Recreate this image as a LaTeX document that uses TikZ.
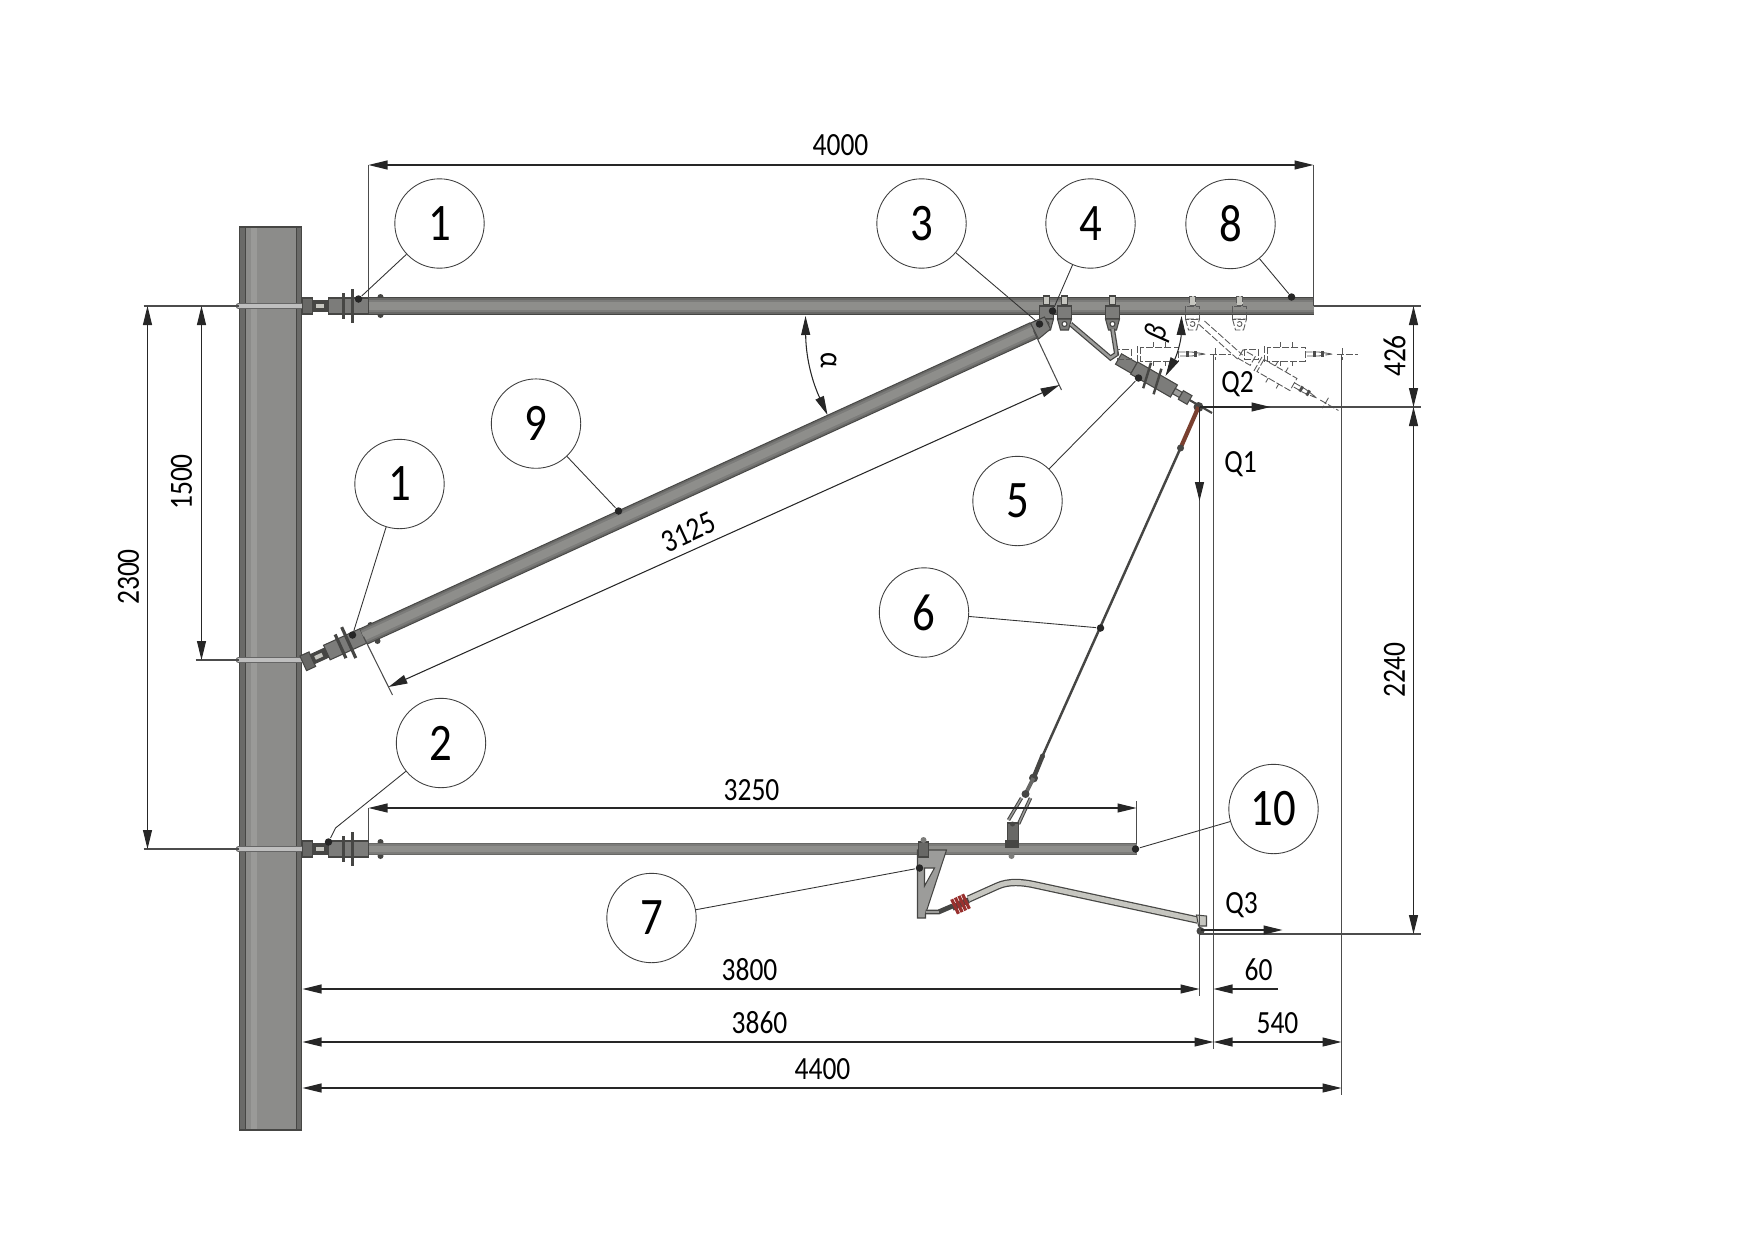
\documentclass[tikz,border=0pt]{standalone}
\usepackage{fontspec}
\usepackage{tikz}
\usetikzlibrary{arrows.meta}
\newfontfamily\dimfont[FakeStretch=0.85]{Carlito}
\definecolor{polegray}{HTML}{8C8C8A}
\definecolor{poleedge}{HTML}{6A6A68}
\definecolor{steel}{HTML}{7C7C7A}
\definecolor{steeldark}{HTML}{464644}
\definecolor{steelmid}{HTML}{686866}
\definecolor{steellight}{HTML}{9C9C9A}
\definecolor{armlight}{HTML}{C6C6C0}
\definecolor{insred}{HTML}{98302E}
\definecolor{rodred}{HTML}{7A4030}
\tikzset{
	x=0.1mm, y=-0.1mm,
	>={Triangle[length=1.9mm,width=0.9mm]},
	callout/.style={circle, draw=black!75, line width=0.25pt, fill=white, minimum size=8.94mm, inner sep=0pt, font=\dimfont\fontsize{15}{15}\selectfont},
	pin/.style={circle, fill=black!85, minimum size=0.75mm, inner sep=0pt},
	dimtext/.style={font=\dimfont\fontsize{9.2}{9.2}\selectfont, inner sep=0pt},
	dimline/.style={draw=black!85, line width=0.3pt, <->},
	oneway/.style={draw=black!85, line width=0.3pt, ->},
	extline/.style={draw=black!70, line width=0.3pt},
	leader/.style={draw=black!80, line width=0.25pt},
	ghost/.style={draw=black!65, line width=0.25pt, dash pattern=on 2pt off 0.6pt},
	solidpart/.style={draw=steeldark, fill=steel, line width=0.3pt},
	pics/hanger/.style={code={
		\path[#1, fill=armlight] (-3,-10) rectangle (3,-1);
		\path[#1] (-7,0) rectangle (7,13);
		\path[#1] (-7,13) -- (-4,24) -- (4,24) -- (7,13) -- cycle;
		\path[#1, fill=white] (0,18) circle (2.5);
	}},
	pics/fitting/.style={code={
		\path[solidpart, fill=steelmid] (-8,-8) rectangle (2,8);
		\path[solidpart, fill=steeldark] (2,-5) rectangle (18,5);
		\path[fill=armlight] (5,-2) rectangle (13,2);
		\path[solidpart] (18,-8) rectangle (58,8);
		\draw[steeldark, line width=0.9pt] (33,-13) -- (33,13);
		\draw[steeldark, line width=0.9pt] (42,-17) -- (42,17);
	}},
	pics/ghostins/.style={code={
		\draw[ghost] (-8,-5) rectangle (6,5);
		\draw[ghost] (12,-8) -- (12,8);
		\draw[ghost] (15,-7) rectangle (53,7);
		\draw[ghost] (28,-12) -- (28,-7) (28,7) -- (28,12);
		\draw[ghost] (40,-12) -- (40,-7) (40,7) -- (40,12);
		\draw[ghost] (53,-2) -- (66,-2) -- (80,0) -- (66,2) -- (53,2);
		\draw[black!70, line width=0.8pt] (62,-3) -- (62,3) (70,-3) -- (70,3);
		\draw[ghost] (90,-6) -- (90,6) (84,0) -- (105,0);
	}}
}
\newcommand{\tubeline}[3]{%
	\draw[steeldark, line width=#3*0.2835pt] (#1) -- (#2);
	\draw[steelmid, line width=#3*0.25pt] (#1) -- (#2);
	\draw[steel, line width=#3*0.2pt] (#1) -- (#2);
	\draw[steel!45!steellight, line width=#3*0.13pt] (#1) -- (#2);
}
\begin{document}
\begin{tikzpicture}
	\useasboundingbox (-0.5,-1) rectangle (1753.5,1239);

	% Post
	\path[fill=polegray] (239,226) rectangle (301,1129);
	\path[fill=poleedge] (239,226) rectangle (245,1129);
	\path[fill=poleedge] (296,226) rectangle (301,1129);
	\path[fill=polegray!88!white] (250,226) rectangle (256,1129);
	\draw[steeldark, line width=0.3pt] (245,226) -- (245,1129) (296,226) -- (296,1129);
	\draw[steeldark, line width=0.4pt] (239,226) rectangle (301,1129);
	\foreach \y in {305,659,848}{
		\draw[black!60, line width=1.6pt, line cap=round] (238,\y) -- (301,\y);
		\draw[black!25, line width=0.9pt, line cap=round] (238,\y) -- (301,\y);
	}

	% Tubes
	\coordinate (toptubeA) at (368,305);
	\coordinate (toptubeB) at (1313,305);
	\coordinate (strutA) at (363,635.5);
	\coordinate (strutB) at (1033,329.5);
	\coordinate (lowtubeA) at (368,848);
	\coordinate (lowtubeB) at (1136,848);
	\pic at (310,305) {fitting};
	\pic[rotate=24.5] at (310,659) {fitting};
	\pic at (310,848) {fitting};
	\foreach \x/\y in {380/296,380/314,380/841,380/855,370/624,377/640}
		\fill[steeldark] (\x,\y) circle (3);
	\tubeline{toptubeA}{toptubeB}{18}
	\tubeline{strutA}{strutB}{18}
	\tubeline{lowtubeA}{lowtubeB}{13}

	% Hangers
	\pic at (1046,305) {hanger=solidpart};
	\pic at (1064,305) {hanger=solidpart};
	\pic at (1112,305) {hanger=solidpart};
	\pic at (1192,305) {hanger=ghost};
	\pic at (1239,305) {hanger=ghost};
	\path[solidpart] (1030,322) -- (1044,316) -- (1050,328) -- (1038,338) -- cycle;

	% Swivel clamp and insulator
	\coordinate (braceA) at (1070,323);
	\coordinate (braceB) at (1110,357);
	\coordinate (braceC) at (1112,328);
	\coordinate (braceD) at (1116,353);
	\draw[steeldark, line width=1.4pt] (braceA) -- (braceB) -- (braceD) -- (braceC);
	\draw[steellight, line width=0.7pt] (braceA) -- (braceB) -- (braceD) -- (braceC);
	\begin{scope}[shift={(1118,358)}, rotate=-30]
		\path[solidpart] (0,-6) rectangle (18,6);
		\path[solidpart] (18,-7) rectangle (64,7);
		\draw[steeldark, line width=0.7pt] (30,-13) -- (36,13) (42,-13) -- (48,13);
		\path[solidpart, fill=steellight] (64,-3) rectangle (72,3);
		\path[solidpart] (72,-5) rectangle (82,5);
		\draw[steeldark, line width=0.6pt] (82,0) -- (108,0);
	\end{scope}
	\coordinate (eyeA) at (1198,406);
	\fill[steeldark] (eyeA) circle (5);

	% Ghost positions
	\pic at (1125,353) {ghostins};
	\pic at (1252,353) {ghostins};
	\pic[rotate=-30] at (1247,357) {ghostins};
	\coordinate (ghostA) at (1198,323);
	\coordinate (ghostB) at (1237,358);
	\coordinate (ghostC) at (1204,320);
	\coordinate (ghostD) at (1242,354);
	\draw[ghost] (ghostA) -- (ghostB) (ghostC) -- (ghostD);

	% Rod
	\coordinate (rodA) at (1180,447);
	\coordinate (rodB) at (1042,755);
	\coordinate (rodC) at (1033,777);
	\coordinate (rodD) at (1025,793);
	\coordinate (rodE) at (1012,823);
	\draw[rodred, line width=1.2pt] (eyeA) -- (rodA);
	\draw[steeldark, line width=0.7pt] (rodA) -- (rodB);
	\draw[steeldark, line width=1.3pt] (rodB) -- (rodC);
	\fill[steeldark] (rodA) circle (3.5);
	\fill[steeldark] (rodB) circle (2.5);
	\fill[steeldark] (rodC) circle (4.5);
	\draw[steelmid, line width=1.1pt] (rodC) -- (rodD);
	\draw[steeldark, line width=1pt] (1021,797) -- (1008,819);
	\draw[steeldark, line width=1pt] (1030,797) -- (1018,823);
	\draw[steellight, line width=0.4pt] (1021,797) -- (1008,819) (1030,797) -- (1018,823);
	\fill[steeldark] (rodD) circle (4);
	\path[solidpart, fill=steelmid] (1007,822) rectangle (1018,840);
	\fill[steeldark] (rodE) circle (2.5);
	\path[solidpart, fill=steeldark] (1005,840) rectangle (1018,846);
	\fill[steel] (1011,855) circle (3);

	% Steady arm
	\path[solidpart, even odd rule, fill=steellight] (917,849) -- (946,849) -- (925,913) -- (925,917) -- (917,917) -- cycle
		(924,867) -- (934,867) -- (924,885) -- cycle;
	\path[solidpart, fill=steelmid] (918,841) rectangle (928,856);
	\fill[steel] (923,839) circle (3);
	\coordinate (armA) at (925,911);
	\coordinate (armB) at (938,911);
	\coordinate (armC) at (968,898);
	\coordinate (armD) at (1197,919);
	\draw[steeldark, line width=1.4pt] (armA) -- (armB) -- (952,905);
	\draw[steellight, line width=0.7pt] (armA) -- (armB);
	\draw[steeldark, line width=2.1pt] (armC) -- (997,885) .. controls (1008,880) and (1022,881) .. (1035,884) -- (armD);
	\draw[armlight, line width=1.4pt] (armC) -- (997,885) .. controls (1008,880) and (1022,881) .. (1035,884) -- (armD);
	\begin{scope}[shift={(960,903)}, rotate=25]
		\fill[steeldark] (-9,-3) rectangle (9,3);
		\foreach \x in {-6,-2,2,6}
			\fill[insred] (\x-1.6,-8) rectangle (\x+1.6,8);
	\end{scope}
	\path[solidpart, fill=armlight] (1196,914) -- (1206,915) -- (1206,925) -- (1198,925) -- cycle;
	\fill[steeldark] (1200,930) circle (4);

	% Dimension coordinates
	\coordinate (poleR) at (302,988);
	\coordinate (wireA) at (1199,988);
	\coordinate (wireT) at (1199,406);
	\coordinate (q1tip) at (1199,500);
	\coordinate (q2tip) at (1270,406);
	\coordinate (q3A) at (1200,929);
	\coordinate (q3tip) at (1282,929);
	\coordinate (low) at (1200,933);
	\coordinate (sixtyA) at (1277,988);
	\coordinate (sixtyB) at (1213,988);

	% Extension lines
	\draw[extline] (368,164) -- (368,297);
	\draw[extline] (1313,164) -- (toptubeB);
	\draw[extline] (143,305) -- (238,305);
	\draw[extline] (195,659) -- (238,659);
	\draw[extline] (143,848) -- (238,848);
	\draw[extline] (1313,305) -- (1420,305);
	\draw[extline] (wireT) -- (1420,406);
	\draw[extline] (low) -- (1420,933);
	\draw[extline] (368,807) -- (368,843);
	\draw[extline] (1136,800) -- (1136,843);
	\draw[extline] (1199,406) -- (1199,995);
	\draw[extline] (1213,354) -- (1213,1048);
	\draw[extline] (1341,354) -- (1341,1094);
	\draw[extline] (1033,329.5) -- (1061,389);
	\draw[extline] (363,635.5) -- (392,694);

	% Dimensions
	\draw[dimline] (368,164) -- (1313,164);
	\node[dimtext] (dimA) at (840,144) {4000};
	\draw[dimline] (147,305) -- (147,848);
	\node[dimtext, rotate=90] (dimB) at (128,576) {2300};
	\draw[dimline] (201,305) -- (201,659);
	\node[dimtext, rotate=90] (dimC) at (181,481) {1500};
	\draw[dimline] (388,686) -- (1059,384);
	\node[dimtext, rotate=24.5] (dimD) at (688,531) {3125};
	\draw[dimline] (368,807) -- (1136,807);
	\node[dimtext] (dimE) at (751,789) {3250};
	\draw[dimline] (1413,305) -- (1413,406);
	\node[dimtext, rotate=90] (dimF) at (1394,355) {426};
	\draw[dimline] (1413,406) -- (1413,933);
	\node[dimtext, rotate=90] (dimG) at (1394,669) {2240};
	\draw[dimline] (poleR) -- (wireA);
	\node[dimtext] (dimH) at (749,969) {3800};
	\draw[oneway] (sixtyA) -- (sixtyB);
	\node[dimtext] (dimI) at (1258,969) {60};
	\draw[dimline] (302,1041) -- (1213,1041);
	\node[dimtext] (dimJ) at (759,1022) {3860};
	\draw[dimline] (1213,1041) -- (1341,1041);
	\node[dimtext] (dimK) at (1277,1022) {540};
	\draw[dimline] (302,1087) -- (1341,1087);
	\node[dimtext] (dimL) at (822,1068) {4400};

	% Angles
	\coordinate (alphaA) at (805,315);
	\coordinate (alphaB) at (827,414);
	\coordinate (betaA) at (1181,315);
	\coordinate (betaB) at (1165,375);
	\draw[dimline] (alphaA) to[bend right=12] (alphaB);
	\draw[dimline] (betaA) to[bend left=14] (betaB);
	\node[dimtext, rotate=-90] (alpha) at (828,359) {α};
	\node[dimtext, rotate=72] (beta) at (1157,332) {\itshape β};

	% Loads
	\draw[oneway] (wireT) -- (q1tip);
	\draw[oneway] (wireT) -- (q2tip);
	\draw[oneway] (q3A) -- (q3tip);
	\node[dimtext] (qone) at (1240,463) {Q1};
	\node[dimtext] (qtwo) at (1237,383) {Q2};
	\node[dimtext] (qthree) at (1241,904) {Q3};

	% Points
	\node[pin] (ptA) at (358,298) {};
	\node[pin] (ptB) at (352,634) {};
	\node[pin] (ptC) at (328,841) {};
	\node[pin] (ptD) at (1039,323) {};
	\node[pin] (ptE) at (1052,310) {};
	\node[pin] (ptF) at (1138,377) {};
	\node[pin] (ptG) at (1100,627) {};
	\node[pin] (ptH) at (919,867) {};
	\node[pin] (ptI) at (1291,296) {};
	\node[pin] (ptJ) at (618,510) {};
	\node[pin] (ptK) at (1135,848) {};
	\coordinate (kink) at (335,827);

	% Callouts
	\node[callout] (numA) at (439,222.5) {1};
	\node[callout] (numB) at (399,483) {1};
	\node[callout] (numC) at (440.5,742) {2};
	\node[callout] (numD) at (921,222.5) {3};
	\node[callout] (numE) at (1090,222.5) {4};
	\node[callout] (numF) at (1017,500) {5};
	\node[callout] (numG) at (923.5,611.5) {6};
	\node[callout] (numH) at (651,917) {7};
	\node[callout] (numI) at (1230,223) {8};
	\node[callout] (numJ) at (535.5,422.6) {9};
	\node[callout] (numK) at (1273,808) {10};

	% Leaders
	\draw[leader] (numA) -- (ptA);
	\draw[leader] (numB) -- (ptB);
	\draw[leader] (numC) -- (kink) -- (ptC);
	\draw[leader] (numD) -- (ptD);
	\draw[leader] (numE) -- (ptE);
	\draw[leader] (numF) -- (ptF);
	\draw[leader] (numG) -- (ptG);
	\draw[leader] (numH) -- (ptH);
	\draw[leader] (numI) -- (ptI);
	\draw[leader] (numJ) -- (ptJ);
	\draw[leader] (numK) -- (ptK);
\end{tikzpicture}
\end{document}
